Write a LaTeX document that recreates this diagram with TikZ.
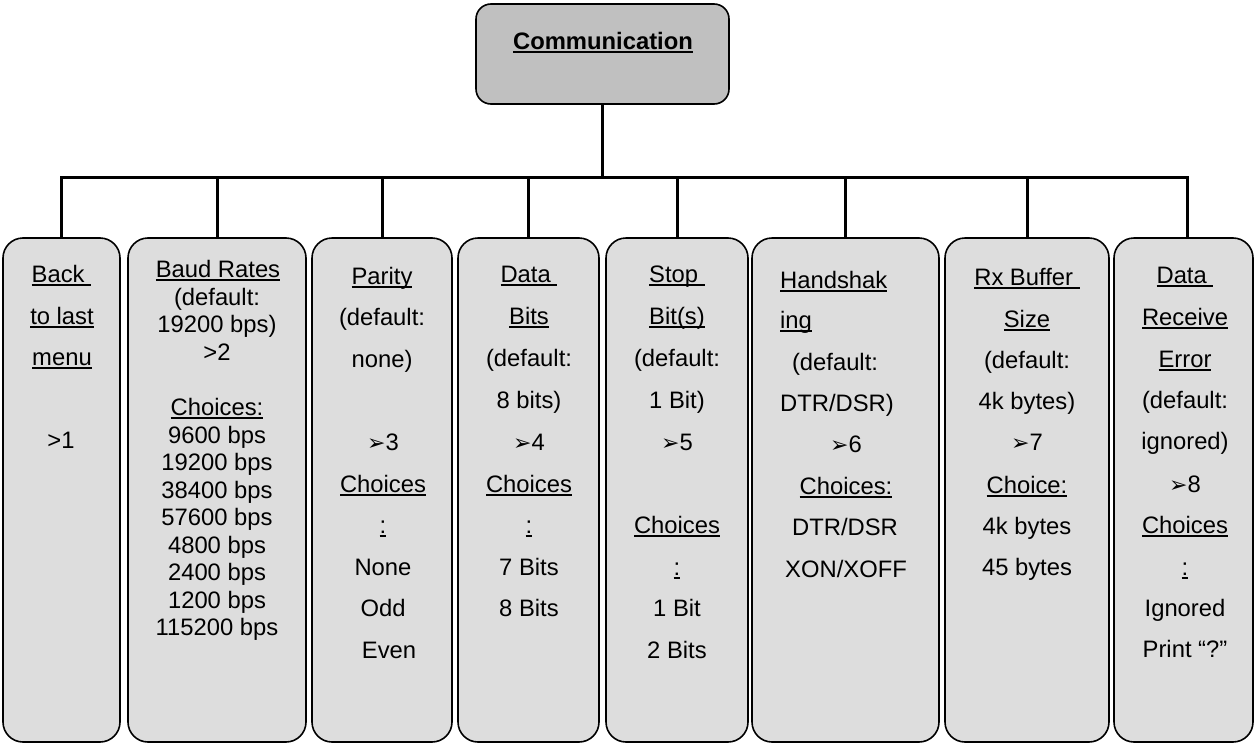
\documentclass[tikz,border=0pt]{standalone}
\usepackage{fontspec}
\setmainfont{Liberation Sans}
\newfontfamily\djv{DejaVu Sans}
\newcommand\ul[1]{\setbox0\hbox{#1}\rlap{\rule[-4pt]{\wd0}{1.6pt}}\box0}
\newcommand\arr{{\djv\fontsize{22}{22}\selectfont ➢}}
\definecolor{boxgray}{HTML}{DDDDDD}
\definecolor{topgray}{HTML}{C0C0C0}
\begin{document}
\begin{tikzpicture}[x=1pt,y=-1pt,
  sub/.style={draw=black,line width=1.6pt,fill=boxgray,rounded corners=20pt,inner sep=0pt,minimum height=504pt},
  topbox/.style={draw=black,line width=1.6pt,fill=topgray,rounded corners=15pt,inner sep=0pt,minimum width=253pt,minimum height=100pt},
  conn/.style={line width=3pt,line cap=rect},
  txt/.style={inner sep=0pt,anchor=base,font=\fontsize{23.8}{27.5}\selectfont}]
\useasboundingbox (0,0) rectangle (1255,744);
\fill[white] (0,0) rectangle (1255,744);

\node[topbox] (top) at (602.5,54) {};
\node[txt,font=\bfseries\fontsize{23.8}{27.5}\selectfont] (toptxt) at (603,49) {\ul{Communication}};

\node[sub,minimum width=117pt] (b1) at (61.5,490) {};
\node[sub,minimum width=178pt] (b2) at (217,490) {};
\node[sub,minimum width=140pt] (b3) at (382,490) {};
\node[sub,minimum width=141pt] (b4) at (528.5,490) {};
\node[sub,minimum width=142pt] (b5) at (677,490) {};
\node[sub,minimum width=187pt] (b6) at (845.5,490) {};
\node[sub,minimum width=164pt] (b7) at (1027,490) {};
\node[sub,minimum width=139pt] (b8) at (1183.5,490) {};

\coordinate (bus) at (0,177);
\coordinate (d8) at ([xshift=4pt]b8.north);
\draw[conn] (top.south) -- (top.south |- bus);
\draw[conn] (b1.north |- bus) -- (d8 |- bus);
\foreach \i in {1,...,7} \draw[conn] (b\i.north |- bus) -- (b\i.north);
\draw[conn] (d8 |- bus) -- (d8);

% box 1
\foreach \x/\y/\t [count=\i] in {61.5/282/{\ul{Back\ }},62/324/{\ul{to last}},62/365/{\ul{menu}},61/448/{>1}}
  \node[txt] (ta\i) at (\x,\y) {\t};
% box 2
\foreach \x/\y/\t [count=\i] in {218/277/{\ul{Baud Rates}},217/305/{(default:},217/332/{19200 bps)},217/360/{>2},
  217/415/{\ul{Choices:}},217/443/{9600 bps},217/470/{19200 bps},217/498/{38400 bps},217/525/{57600 bps},
  217/553/{4800 bps},217/580/{2400 bps},217/608/{1200 bps},217/635/{115200 bps}}
  \node[txt] (tb\i) at (\x,\y) {\t};
% box 3
\foreach \x/\y/\t [count=\i] in {382/284/{\ul{Parity}},382/325/{(default:},382/367/{none)},383/450/{\arr3},
  383/492/{\ul{Choices}},383/533/{\ul{:}},383/575/{None},383/616/{Odd},389/658/{Even}}
  \node[txt] (tc\i) at (\x,\y) {\t};
% box 4
\foreach \x/\y/\t [count=\i] in {529/282/{\ul{Data\ }},529/324/{\ul{Bits}},529/366/{(default:},529/408/{8 bits)},529/450/{\arr4},
  529/492/{\ul{Choices}},529/533/{\ul{:}},529/575/{7 Bits},529/616/{8 Bits}}
  \node[txt] (td\i) at (\x,\y) {\t};
% box 5
\foreach \x/\y/\t [count=\i] in {677/282/{\ul{Stop\ }},677/324/{\ul{Bit(s)}},677/366/{(default:},677/408/{1 Bit)},677/450/{\arr5},
  677/533/{\ul{Choices}},677/575/{\ul{:}},677/616/{1 Bit},677/658/{2 Bits}}
  \node[txt] (te\i) at (\x,\y) {\t};
% box 6
\node[txt,anchor=base west] (tf1) at (780,288) {\ul{Handshak}};
\node[txt,anchor=base west] (tf2) at (780,328) {\ul{ing}};
\foreach \x/\y/\t [count=\i from 3] in {835/370/{(default:},837/411/{DTR/DSR)},846/452/{\arr6},
  846/494/{\ul{Choices:}},845/535/{DTR/DSR},846/577/{XON/XOFF}}
  \node[txt] (tf\i) at (\x,\y) {\t};
% box 7
\foreach \x/\y/\t [count=\i] in {1027/285/{\ul{Rx Buffer\ }},1027/327/{\ul{Size}},1027/368/{(default:},1027/409/{4k bytes)},1027/450/{\arr7},
  1027/493/{\ul{Choice:}},1027/534/{4k bytes},1027/575/{45 bytes}}
  \node[txt] (tg\i) at (\x,\y) {\t};
% box 8
\foreach \x/\y/\t [count=\i] in {1185/283/{\ul{Data\ }},1185/325/{\ul{Receive}},1185/367/{\ul{Error}},1185/408/{(default:},1185/449/{ignored)},1185/492/{\arr8},
  1185/533/{\ul{Choices}},1185/575/{\ul{:}},1185/616/{Ignored},1185/657/{Print “?”}}
  \node[txt] (th\i) at (\x,\y) {\t};
\end{tikzpicture}
\end{document}
